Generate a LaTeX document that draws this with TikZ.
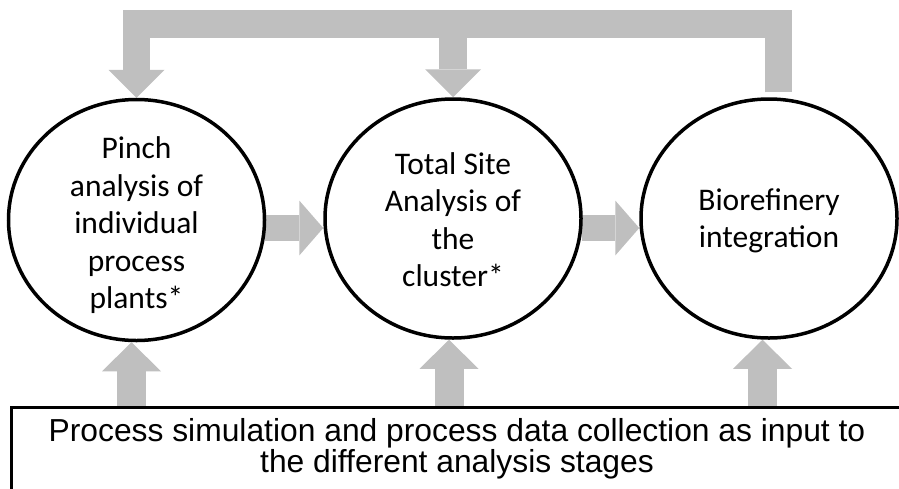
\documentclass[tikz,border=0pt]{standalone}
\usepackage{fontspec}
\newfontfamily\calibfont{Carlito}
\newfontfamily\arialfont{Liberation Sans}
\usetikzlibrary{arrows.meta,calc,shapes.geometric}
\definecolor{arrowgray}{RGB}{191,191,191}
\pgfdeclarelayer{bg}
\pgfsetlayers{bg,main}
\begin{document}
\begin{tikzpicture}[x=1pt,y=-1pt,
  stage/.style={ellipse, draw, line width=3.5pt, fill=white, minimum width=256pt, minimum height=240pt, inner sep=0pt},
  stagetext/.style={align=center, inner sep=0pt, font=\calibfont\fontsize{31.5}{37.5}\selectfont},
  hflow/.style={draw=arrowgray, line width=26.5pt, -{Triangle[length=24pt,width=55pt,line width=0pt]}},
  topflow/.style={draw=arrowgray, line width=27.5pt, line join=miter, -{Triangle[length=28pt,width=56pt,line width=0pt]}},
  bar/.style={draw=arrowgray, line width=27.5pt, line join=miter},
  upflow/.style={draw=arrowgray, line width=29pt, -{Triangle[length=29pt,width=59pt,line width=0pt]}},
  inputbox/.style={draw, line width=3.7pt, inner sep=0pt, anchor=north west, minimum width=900pt, minimum height=100pt}
]
\useasboundingbox (0,0) rectangle (899,488);

% stages
\node[stage, minimum height=241pt] (c1) at (136.5,220) {};
\node[stage, minimum height=239pt] (c2) at (453,218.5) {};
\node[stage, minimum height=239pt] (c3) at (769,218.5) {};
\node[stagetext] (c1t) at (136.5,225.5) {Pinch\\analysis of\\individual\\process\\plants*};
\node[stagetext] (c2t) at (453,219.8) {Total Site\\Analysis of\\the\\cluster*};
\node[stagetext] (c3t) at (769,221) {Biorefinery\\integration};

% input box
\node[inputbox] (box) at (9.5,405.5) {};
\node[align=center, inner sep=0pt, font=\arialfont\fontsize{31.8}{29.4}\selectfont] (boxt) at (457,449)
  {Process simulation and process data collection as input to\\the different analysis stages};

\begin{pgfonlayer}{bg}
  % horizontal flows
  \coordinate (h1s) at ($(c1.east)+(-1.5,8)$);
  \coordinate (h2s) at ($(c2.east)+(-0.5,9.5)$);
  \draw[hflow] (h1s) -- (h1s -| c2.west);
  \draw[hflow] (h2s) -- (h2s -| c3.west);

  % feedback from biorefinery integration to the first two stages
  \coordinate (fbs) at ($(c3.north)+(9.5,-5)$);
  \coordinate (fbtop) at (0,24);
  \draw[topflow] (fbs) -- (fbs |- fbtop) -- (c1.north |- fbtop) -- (c1.north);
  \draw[topflow] (c2.north |- fbtop) -- (c2.north);

  % inputs from the box
  \coordinate (u1) at ($(c1.south)+(-5,0)$);
  \coordinate (u2) at ($(c2.south)+(-4,0)$);
  \coordinate (u3) at ($(c3.south)+(-6.5,0)$);
  \draw[upflow] (u1 |- box.north) -- (u1);
  \draw[upflow] (u2 |- box.north) -- (u2);
  \draw[upflow] (u3 |- box.north) -- (u3);
\end{pgfonlayer}
\end{tikzpicture}
\end{document}
